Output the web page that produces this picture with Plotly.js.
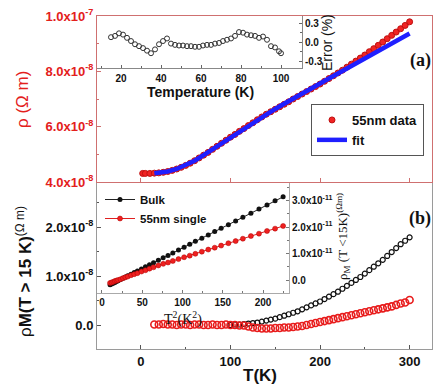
<!DOCTYPE html>
<html>
<head>
<meta charset="utf-8">
<script src="https://cdn.plot.ly/plotly-3.0.1.min.js"></script>
<style>
body { margin: 0; background: #fff; }
#the_plot { width: 436px; height: 387px; }
</style>
</head>
<body>
<div id="the_plot"></div>
<script>
window.addEventListener("load", setup);

// panel (a): 55nm wire resistivity, in units of 1e-8 Ohm m
var tData = [2,5,10,15,20,25,30,35,40,45,50,55,60,65,70,75,80,85,90,95,100,105,110,115,120,125,130,135,140,145,150,155,160,165,170,175,180,185,190,195,200,205,210,215,220,225,230,235,240,245,250,255,260,265,270,275,280,285,290,295,300]
var rhoData = [4.31,4.31,4.31,4.32,4.33,4.35,4.38,4.42,4.47,4.53,4.60,4.68,4.77,4.87,4.97,5.07,5.18,5.29,5.40,5.51,5.62,5.72,5.83,5.93,6.04,6.14,6.25,6.35,6.45,6.54,6.63,6.72,6.81,6.90,7.00,7.09,7.18,7.27,7.36,7.45,7.54,7.64,7.74,7.84,7.94,8.04,8.15,8.26,8.37,8.48,8.59,8.71,8.82,8.94,9.06,9.18,9.30,9.42,9.54,9.66,9.79]
var tFit = [15,20,30,40,50,60,70,80,90,100,110,120,130,140,150,160,170,180,190,200,210,220,230,240,250,260,270,280,290,300]
var rhoFit = [4.32,4.33,4.38,4.47,4.60,4.77,4.97,5.18,5.40,5.62,5.83,6.04,6.25,6.45,6.64,6.83,7.02,7.20,7.38,7.56,7.74,7.92,8.10,8.28,8.46,8.64,8.82,9.01,9.19,9.37]

// inset (a): fit error in %
var tErr = [15,17,19,21,23,25,27,29,31,33,35,37,39,41,43,45,47,49,51,53,55,57,59,61,63,65,67,69,71,73,75,77,79,81,83,85,87,89,91,93,95,97,99,100]
var errPct = [0.08,0.10,0.14,0.12,0.07,0.02,-0.03,-0.06,-0.09,-0.13,-0.17,-0.11,-0.03,0.02,0.06,-0.02,-0.04,-0.05,-0.05,-0.06,-0.06,-0.07,-0.07,-0.05,-0.04,-0.04,-0.02,-0.01,0.02,0.04,0.06,0.10,0.16,0.15,0.12,0.11,0.10,0.07,0.09,0.04,-0.06,-0.08,-0.14,-0.17]

// panel (b): magnetic part rho_M, units of 1e-8 Ohm m
var tBulk = [100,105,110,115,120,125,130,135,140,145,150,155,160,165,170,175,180,185,190,195,200,205,210,215,220,225,230,235,240,245,250,255,260,265,270,275,280,285,290,295,300]
var rhoBulk = [0.0,0.01,0.01,0.02,0.03,0.04,0.05,0.07,0.09,0.11,0.13,0.16,0.19,0.22,0.25,0.28,0.32,0.36,0.40,0.44,0.48,0.53,0.58,0.63,0.68,0.74,0.80,0.86,0.92,0.98,1.05,1.12,1.19,1.26,1.33,1.41,1.49,1.57,1.65,1.72,1.79]
var tSingle = [15,20,25,30,35,40,45,50,55,60,65,70,75,80,85,90,95,100,105,110,115,120,125,130,135,140,145,150,155,160,165,170,175,180,185,190,195,200,205,210,215,220,225,230,235,240,245,250,255,260,265,270,275,280,285,290,295,300]
var rhoSingle = [0.01,0.01,0.02,0.01,0.01,0.0,0.01,0.01,0.0,0.01,0.01,0.0,0.0,0.01,0.0,0.0,0.01,0.0,0.0,-0.01,-0.01,-0.03,-0.05,-0.06,-0.07,-0.07,-0.07,-0.06,-0.06,-0.05,-0.05,-0.04,-0.03,-0.02,0.0,0.02,0.04,0.06,0.08,0.10,0.12,0.14,0.16,0.18,0.20,0.22,0.24,0.26,0.28,0.30,0.32,0.34,0.36,0.38,0.41,0.44,0.46,0.51]

// inset (b): T < 15 K, x is T^2, y in units of 1e-11 Ohm m
var t2Inset = [10,12,14,16,18,20,23,26,29,32,36,40,44,49,54,59,64,70,76,82,88,95,102,109,116,124,132,140,148,157,166,175,185,195,205,215,225]
var bulkInset = [-0.18,-0.15,-0.12,-0.09,-0.06,-0.03,0.02,0.07,0.11,0.16,0.22,0.28,0.34,0.42,0.50,0.58,0.65,0.75,0.84,0.93,1.02,1.13,1.24,1.35,1.46,1.58,1.70,1.83,1.95,2.09,2.23,2.37,2.52,2.68,2.83,2.99,3.14]
var singleInset = [-0.11,-0.09,-0.07,-0.04,-0.02,0.00,0.03,0.07,0.10,0.13,0.18,0.22,0.26,0.32,0.37,0.43,0.48,0.55,0.61,0.66,0.72,0.79,0.86,0.92,0.99,1.07,1.15,1.22,1.30,1.39,1.47,1.56,1.66,1.75,1.85,1.94,2.04]

// tick labels
var tTicks = [0,100,200,300]
var topTickVals = [4,6,8,10]
var topTickText = ["4.0x10<sup>-8</sup>","6.0x10<sup>-8</sup>","8.0x10<sup>-8</sup>","1.0x10<sup>-7</sup>"]
var botTickVals = [0,1,2]
var botTickText = ["0.0","1.0x10<sup>-8</sup>","2.0x10<sup>-8</sup>"]
var errTickVals = [-0.3,0,0.3]
var errTickText = ["-0.3","0.0","0.3"]
var errXTicks = [20,40,60,80,100]
var insTickVals = [0,1,2,3]
var insTickText = ["0.0","1.0x10<sup>-11</sup>","2.0x10<sup>-11</sup>","3.0x10<sup>-11</sup>"]
var t2Ticks = [0,50,100,150,200]

var SANS = "Liberation Sans, Arial, sans-serif"
var SERIF = "Liberation Serif, Times New Roman, serif"
var RED = "#e3201c"
var REDLINE = "#cf7070"
var GRAYLINE = "#9a9a9a"

// pixel -> paper helpers (plot area 97..432 x 16..349)
function px(x) { return (x - 97) / 335 }
function py(y) { return (349 - y) / 333 }

function label(text, x, y, font, angle) {
    return {text: text, x: px(x), y: py(y), xref: "paper", yref: "paper",
            xanchor: "center", yanchor: "middle", textangle: angle || 0,
            showarrow: false, font: font}
}

function setup() {
    setup_plot()
}

function setup_plot() {
    var data = [
        {x: tData, y: rhoData, xaxis: "x4", yaxis: "y", mode: "markers", name: "55nm data",
         marker: {color: "#f02424", size: 6, line: {color: "#c01010", width: 1}}},
        {x: tFit, y: rhoFit, xaxis: "x4", yaxis: "y", mode: "lines", name: "fit",
         line: {color: "#1f1fff", width: 4.5}},
        {x: tErr, y: errPct, xaxis: "x2", yaxis: "y3", mode: "markers", showlegend: false,
         marker: {symbol: "circle-open", color: "#333", size: 5, line: {width: 1}}},
        {x: tBulk, y: rhoBulk, xaxis: "x", yaxis: "y2", mode: "markers", showlegend: false,
         marker: {symbol: "circle-open", color: "#111", size: 5, line: {width: 1.2}}},
        {x: tSingle, y: rhoSingle, xaxis: "x", yaxis: "y2", mode: "markers", showlegend: false,
         marker: {symbol: "circle-open", color: "#e81c1c", size: 7, line: {width: 1.6}}},
        {x: t2Inset, y: bulkInset, xaxis: "x3", yaxis: "y4", mode: "lines+markers", name: "Bulk", legend: "legend2",
         line: {color: "#222", width: 1}, marker: {color: "#111", size: 5}},
        {x: t2Inset, y: singleInset, xaxis: "x3", yaxis: "y4", mode: "lines+markers", name: "55nm single", legend: "legend2",
         line: {color: "#e02020", width: 1}, marker: {color: "#ee2020", size: 5, line: {color: "#b00000", width: 0.5}}}
    ]

    var tickF = {family: SANS, size: 13, weight: "bold"}
    var smallF = {family: SANS, size: 10, weight: "bold", color: "#111"}

    var layout = {
        width: 436, height: 387,
        margin: {l: 97, r: 4, t: 16, b: 38},
        paper_bgcolor: "#fff", plot_bgcolor: "rgba(0,0,0,0)",
        font: {family: SANS, color: "#111"},
        showlegend: true,
        // main T axis (bottom panel)
        xaxis: {domain: [0, 1], range: [-49, 325], anchor: "y2", showgrid: false, zeroline: false,
                showline: true, linecolor: GRAYLINE, linewidth: 1,
                tickmode: "array", tickvals: tTicks, ticks: "inside", ticklen: 4, tickcolor: "#555",
                minor: {dtick: 50, tick0: 0, ticks: "inside", ticklen: 2, tickcolor: "#555"},
                tickfont: tickF},
        // T axis of the top panel, no labels
        xaxis4: {domain: [0, 1], range: [-49, 325], anchor: "y", showgrid: false, zeroline: false,
                 showline: true, mirror: true, linecolor: REDLINE, linewidth: 1,
                 tickmode: "array", tickvals: tTicks, ticks: "inside", ticklen: 4, tickcolor: REDLINE,
                 showticklabels: false},
        yaxis: {domain: [0.5015, 1], range: [4, 10], anchor: "x4", showgrid: false, zeroline: false,
                showline: true, mirror: true, linecolor: REDLINE, linewidth: 1,
                tickmode: "array", tickvals: topTickVals, ticktext: topTickText,
                ticks: "inside", ticklen: 4, tickcolor: REDLINE,
                minor: {dtick: 1, tick0: 0, ticks: "inside", ticklen: 2, tickcolor: REDLINE},
                tickfont: {family: SANS, size: 13, weight: "bold", color: RED}},
        yaxis2: {domain: [0, 0.5015], range: [-0.49, 2.92], anchor: "x", showgrid: false, zeroline: false,
                 showline: true, mirror: true, linecolor: GRAYLINE, linewidth: 1,
                 tickmode: "array", tickvals: botTickVals, ticktext: botTickText,
                 ticks: "inside", ticklen: 4, tickcolor: "#555",
                 minor: {dtick: 0.5, tick0: 0, ticks: "inside", ticklen: 2, tickcolor: "#555"},
                 tickfont: tickF},
        // inset (a)
        xaxis2: {domain: [0, px(302)], range: [8, 110.5], anchor: "y3", showgrid: false, zeroline: false,
                 showline: true, linecolor: "#888", linewidth: 1,
                 tickmode: "array", tickvals: errXTicks, ticks: "inside", ticklen: 3, tickcolor: "#666",
                 minor: {dtick: 10, tick0: 0, ticks: "inside", ticklen: 2, tickcolor: "#666"},
                 tickfont: smallF, ticklabelstandoff: 1},
        yaxis3: {domain: [py(68), 1], range: [-0.40, 0.41], anchor: "x2", side: "right", showgrid: false, zeroline: false,
                 showline: true, linecolor: "#888", linewidth: 1,
                 tickmode: "array", tickvals: errTickVals, ticktext: errTickText,
                 ticks: "inside", ticklen: 3, tickcolor: "#666",
                 minor: {dtick: 0.15, tick0: 0, ticks: "inside", ticklen: 2, tickcolor: "#666"},
                 tickfont: smallF},
        // inset (b)
        xaxis3: {domain: [0, px(289)], range: [-6.2, 232.3], anchor: "y4", showgrid: false, zeroline: false,
                 showline: true, linecolor: "#aaa", linewidth: 1,
                 tickmode: "array", tickvals: t2Ticks, ticks: "inside", ticklen: 3, tickcolor: "#777",
                 minor: {dtick: 25, tick0: 0, ticks: "inside", ticklen: 2, tickcolor: "#777"},
                 tickfont: smallF, ticklabelstandoff: 0},
        yaxis4: {domain: [py(293), 0.5015], range: [-0.49, 3.70], anchor: "x3", side: "right", showgrid: false, zeroline: false,
                 showline: true, linecolor: "#aaa", linewidth: 1,
                 tickmode: "array", tickvals: insTickVals, ticktext: insTickText,
                 ticks: "inside", ticklen: 3, tickcolor: "#777",
                 minor: {dtick: 0.5, tick0: 0, ticks: "inside", ticklen: 2, tickcolor: "#777"},
                 tickfont: smallF},
        legend: {x: px(311), y: py(104), xanchor: "left", yanchor: "top",
                 bgcolor: "#fff", bordercolor: "#555", borderwidth: 1,
                 font: {family: SANS, size: 13, weight: "bold", color: "#111"},
                 itemwidth: 30, tracegroupgap: 0},
        legend2: {x: px(100), y: py(185), xanchor: "left", yanchor: "top",
                  bgcolor: "rgba(0,0,0,0)", borderwidth: 0,
                  font: {family: SANS, size: 11.5, weight: "bold", color: "#111"},
                  itemwidth: 30, tracegroupgap: 0},
        annotations: [
            label("ρ (Ω m)", 23, 100, {family: SANS, size: 17, color: RED}, -90),
            label("ρ<b>M(T > 15 K)</b><sup>(Ω m)</sup>", 24, 272, {family: SANS, size: 17, color: "#111"}, -90),
            label("<b>T(K)</b>", 260, 375, {family: SANS, size: 17, color: "#111"}),
            label("<b>Temperature (K)</b>", 200, 92, {family: SANS, size: 14, color: "#111"}),
            label("Error (%)", 327, 43, {family: SANS, size: 14, color: "#111"}, -90),
            label("T<sup>2</sup>(K<sup>2</sup>)", 183, 318, {family: SERIF, size: 14, color: "#111"}),
            label("ρ<sub>M</sub> (T <15K)<sup>(Ωm)</sup>", 343, 237, {family: SERIF, size: 13, color: "#111"}, -90),
            label("<b>(a)</b>", 420, 60, {family: SERIF, size: 18, color: "#111"}),
            label("<b>(b)</b>", 420, 218, {family: SERIF, size: 18, color: "#111"})
        ]
    }

    Plotly.newPlot("the_plot", data, layout, {displayModeBar: false, staticPlot: true})
}
</script>
</body>
</html>
